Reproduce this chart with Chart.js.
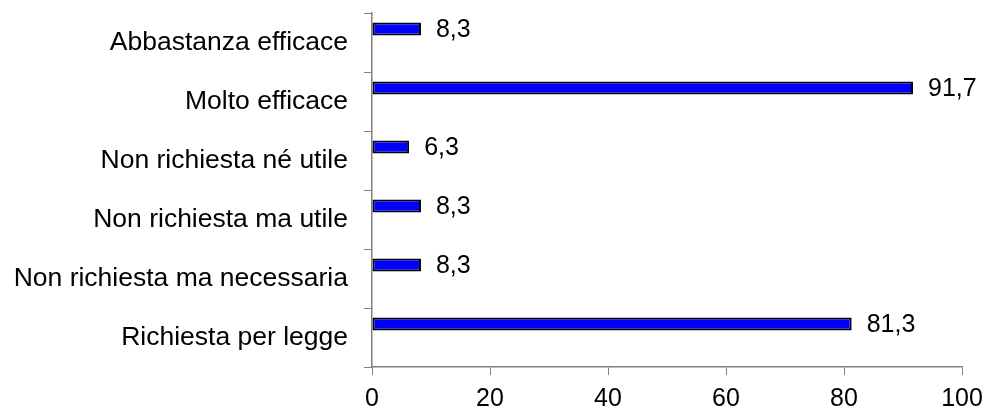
<!DOCTYPE html>
<html>
<head>
<meta charset="utf-8">
<script src="https://cdn.jsdelivr.net/npm/chart.js@4.4.1/dist/chart.umd.min.js"></script>
<style>
  html, body { margin: 0; padding: 0; background: #ffffff; }
  #wrap { width: 989px; height: 412px; position: relative; }
</style>
</head>
<body>
<div id="wrap"><canvas id="chart" width="989" height="412"></canvas></div>
<script>
// Answer categories, top to bottom
const categories = [
  'Abbastanza efficace',
  'Molto efficace',
  'Non richiesta né utile',
  'Non richiesta ma utile',
  'Non richiesta ma necessaria',
  'Richiesta per legge'
];
// Percentages per category
const percentValues = [8.3, 91.7, 6.3, 8.3, 8.3, 81.3];
// Empty companion series (keeps the bar in the upper half of each row)
const companionValues = [null, null, null, null, null, null];
// Horizontal axis ticks
const xTicks = [0, 20, 40, 60, 80, 100];

const FONT = "'Liberation Sans', Arial, sans-serif";
const fmt = v => v.toFixed(1).replace('.', ',');

// Writes each bar's value just past its end
const valueLabels = {
  id: 'valueLabels',
  afterDatasetsDraw(chart) {
    const ctx = chart.ctx;
    const meta = chart.getDatasetMeta(0);
    ctx.save();
    ctx.font = '25px ' + FONT;
    ctx.fillStyle = '#000000';
    ctx.textAlign = 'left';
    ctx.textBaseline = 'middle';
    meta.data.forEach((bar, i) => {
      const v = percentValues[i];
      ctx.fillText(fmt(v), bar.x + 15, bar.y + 1);
    });
    ctx.restore();
  }
};

new Chart(document.getElementById('chart'), {
  type: 'bar',
  data: {
    labels: categories,
    datasets: [
      {
        data: percentValues,
        backgroundColor: '#0000ff',
        borderColor: '#000000',
        borderWidth: 2,
        borderSkipped: false,
        categoryPercentage: 0.915,
        barPercentage: 0.48
      },
      {
        data: companionValues,
        backgroundColor: '#ff00ff',
        categoryPercentage: 0.915,
        barPercentage: 0.48
      }
    ]
  },
  options: {
    indexAxis: 'y',
    responsive: false,
    animation: false,
    layout: { padding: { top: 13, right: 27, left: 0, bottom: 0 } },
    plugins: {
      legend: { display: false },
      tooltip: { enabled: false }
    },
    scales: {
      x: {
        type: 'linear',
        min: 0,
        max: 100,
        afterBuildTicks: scale => { scale.ticks = xTicks.map(v => ({ value: v })); },
        ticks: {
          color: '#000000',
          font: { family: FONT, size: 25 },
          padding: 9,
          maxRotation: 0
        },
        grid: {
          drawOnChartArea: false,
          drawTicks: true,
          tickLength: 8,
          color: '#808080',
          lineWidth: 1
        },
        border: { display: true, color: '#808080', width: 1.5 },
        afterFit: scale => {
          scale.height = 45;
          scale.paddingLeft = 0;
          scale.paddingRight = 0;
        }
      },
      y: {
        type: 'category',
        ticks: {
          color: '#000000',
          font: { family: FONT, size: 26.5 },
          padding: 16
        },
        grid: {
          drawOnChartArea: false,
          drawTicks: true,
          tickLength: 8,
          offset: true,
          color: '#808080',
          lineWidth: 1
        },
        border: { display: true, color: '#808080', width: 1.5 },
        afterFit: scale => {
          scale.width = 372;
          scale.paddingTop = 0;
          scale.paddingBottom = 0;
        }
      }
    }
  },
  plugins: [valueLabels]
});
</script>
</body>
</html>
